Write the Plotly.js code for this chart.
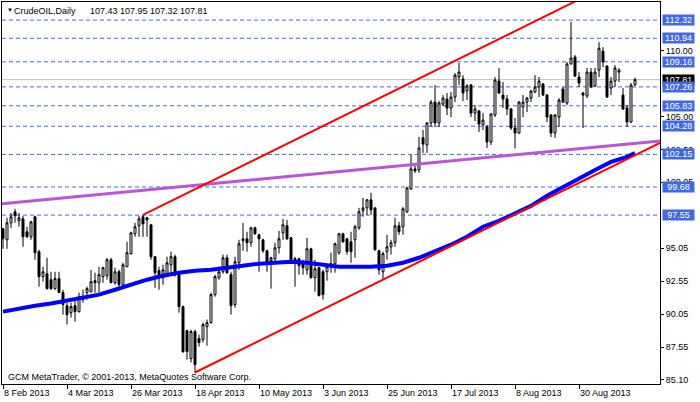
<!DOCTYPE html>
<html><head><meta charset="utf-8">
<script src="https://cdn.plot.ly/plotly-3.0.1.min.js"></script>
<style>html,body{margin:0;padding:0;background:#fff;}#chart{width:700px;height:402px;}</style>
</head><body><div id="chart"></div>
<script>
const symbolName = 'CrudeOIL,Daily';
const copyrightText = 'GCM MetaTrader, \u00a9 2001-2013, MetaQuotes Software Corp.';

const openP = [96.51,95.68,96.97,97.80,97.12,97.27,96.29,95.91,97.42,94.78,
92.89,93.11,92.66,91.98,92.74,91.68,90.69,90.16,90.69,90.24,
91.15,91.68,91.75,92.59,92.43,92.89,92.96,94.17,92.43,93.26,
92.28,93.64,94.63,96.14,96.74,97.42,97.35,96.82,94.40,93.34,
92.81,93.04,93.79,94.40,93.04,90.62,88.80,86.69,88.73,88.20,
88.12,89.11,89.41,91.53,92.81,93.26,94.32,93.04,90.77,93.94,
95.61,95.76,95.46,96.59,96.06,95.68,94.85,94.10,94.25,95.08,
96.21,96.74,95.83,94.25,94.25,94.02,93.41,95.00,92.81,93.57,
93.26,93.26,93.64,93.87,94.70,96.14,95.76,95.53,95.68,96.59,
97.88,98.10,98.71,98.10,94.85,93.26,94.78,95.15,95.46,96.74,
96.67,97.80,99.54,101.05,100.98,103.40,102.87,104.53,106.11,104.53,
105.96,106.34,105.66,106.49,108.01,107.86,106.95,107.40,105.28,105.44,
104.38,104.23,103.09,105.13,107.70,106.64,106.34,105.59,104.15,103.77,
105.74,106.11,106.41,106.87,107.25,107.48,106.64,105.13,103.77,104.98,
107.10,106.04,108.99,109.52,108.01,106.80,106.57,108.38,107.33,108.53,
109.97,108.84,107.17,107.70,108.38,106.64,105.66,104.60,107.43];
const highP = [96.59,97.35,97.72,98.03,97.72,97.50,96.67,97.12,97.50,94.93,
93.64,94.32,93.26,93.26,93.26,91.90,90.92,90.92,91.15,91.68,
91.90,92.13,93.41,93.19,93.64,93.64,94.32,94.32,93.57,93.41,
93.94,95.53,96.29,96.97,97.50,97.57,97.42,96.82,94.40,93.64,
93.79,94.40,94.78,94.55,93.19,90.70,88.88,88.88,88.88,88.50,
89.41,89.64,91.68,93.04,93.64,94.55,94.55,93.26,94.40,95.68,
96.97,96.29,96.67,96.67,96.14,95.76,94.93,94.40,95.46,96.36,
97.27,97.19,95.91,94.40,94.32,94.17,95.83,95.08,94.17,93.64,
93.41,93.79,94.70,95.46,96.21,96.21,95.76,96.29,96.82,98.10,
98.86,98.78,99.24,98.10,94.93,94.78,96.06,95.68,97.35,97.04,
98.18,99.69,102.11,101.28,103.47,104.00,104.60,106.26,107.40,106.19,
106.64,106.80,106.87,108.30,109.07,108.15,107.48,107.48,105.89,105.51,
105.28,104.38,105.28,108.01,108.69,107.63,106.64,105.66,104.91,106.19,
106.64,106.49,107.02,108.15,108.01,107.55,106.72,105.21,105.21,106.41,
107.25,109.14,112.17,109.67,108.38,106.87,108.69,108.69,108.69,110.65,
110.27,108.91,108.01,108.91,108.69,107.17,105.89,107.55,107.95];
const lowP = [95.00,95.00,96.59,96.97,96.67,95.15,95.83,95.68,94.17,92.13,
92.51,91.90,91.90,91.90,91.68,90.01,89.26,89.79,89.48,90.16,
90.92,91.15,91.68,91.68,91.68,92.43,92.66,92.43,92.28,92.13,
92.13,93.64,94.55,95.91,95.91,95.91,95.91,94.17,92.05,91.90,
92.28,92.89,93.19,92.89,90.16,87.14,86.61,86.39,85.63,87.60,
87.90,87.67,89.33,91.37,92.66,93.11,93.11,90.01,90.54,93.41,
94.85,94.78,95.15,96.06,93.26,94.70,93.26,91.98,93.94,94.63,
95.68,95.68,94.02,92.13,93.04,93.04,93.04,92.74,91.75,91.40,
91.15,92.59,93.19,93.19,94.55,95.46,94.55,93.94,94.32,96.44,
97.42,97.57,97.57,94.85,93.04,92.66,94.17,94.55,95.15,96.06,
96.06,97.72,99.46,100.75,100.75,102.26,102.26,104.23,104.23,104.23,
105.81,105.13,104.98,106.11,107.40,106.19,106.26,104.98,104.68,103.85,
104.00,102.64,102.87,104.98,106.72,105.66,105.13,104.00,102.60,103.70,
104.98,105.36,106.11,106.80,106.49,106.57,104.60,103.47,103.40,104.23,
106.04,105.89,108.99,108.01,107.25,104.15,106.41,107.17,107.25,108.01,
108.76,106.41,106.64,107.25,107.63,105.51,104.23,104.53,107.32];
const closeP = [95.76,96.97,97.42,97.50,97.35,95.91,95.91,97.04,94.70,92.89,
93.26,91.98,91.98,92.74,91.68,90.77,90.01,90.62,90.24,91.37,
91.37,91.98,92.51,92.43,93.04,93.57,94.17,92.43,93.26,92.28,
93.79,94.70,96.21,96.67,97.27,96.89,97.19,94.40,93.19,92.96,
93.41,93.94,94.40,93.04,90.62,87.20,87.22,88.73,86.23,87.90,
89.26,89.41,91.53,92.89,93.26,94.32,93.19,90.69,94.02,95.38,
95.76,95.46,96.59,96.14,95.76,94.85,94.02,94.32,95.08,95.76,
96.82,95.76,94.17,94.10,93.72,93.57,95.00,92.81,93.49,91.45,
91.53,93.64,93.87,95.38,96.14,95.53,94.78,94.78,96.67,97.80,
98.10,98.71,97.95,94.93,93.41,94.63,95.15,95.46,96.74,96.29,
98.03,99.61,101.05,100.90,102.64,102.94,104.53,106.11,104.53,106.04,
106.41,105.66,106.49,108.15,108.38,106.80,107.33,105.28,105.59,104.45,
104.75,103.09,105.21,107.78,106.80,106.34,105.59,104.15,103.77,106.11,
106.11,106.41,106.95,107.25,107.70,106.64,104.98,103.77,105.13,106.26,
106.11,108.99,109.44,108.08,107.55,106.64,108.38,107.25,108.38,110.19,
109.14,106.49,107.70,108.69,108.53,105.59,104.60,107.40,107.81];

const dateTickBars = [0,16,32,48,64,80,96,112,128,144];
const dateTickLabels = ['8 Feb 2013','4 Mar 2013','26 Mar 2013','18 Apr 2013','10 May 2013','3 Jun 2013','25 Jun 2013','17 Jul 2013','8 Aug 2013','30 Aug 2013'];

const maBars = [0,4,8,12,16,20,24,28,32,36,40,44,48,52,56,60,64,68,72,76,80,84,88,92,96,100,104,108,112,116,120,124,128,132,136,140,144,148,152,156,158];
const maValues = [90.24,90.47,90.69,90.85,91.07,91.30,91.53,91.90,92.28,92.66,92.96,93.19,93.34,93.41,93.57,93.72,93.87,93.94,94.02,93.94,93.79,93.64,93.64,93.64,93.72,93.94,94.32,94.78,95.31,95.91,96.67,97.12,97.65,98.25,99.01,99.69,100.30,100.97,101.58,101.96,102.26];

const levelValues = [112.32,110.94,109.16,107.26,105.83,104.28,102.15,99.68,97.55];
const priceTicks = [85.10,87.55,90.05,92.55,95.05,100.05,102.50,105.00,110.00];

const upperChannelBars = [35,164.25];
const upperChannelPrices = [97.57,116.91];
const lowerChannelBars = [48,164.25];
const lowerChannelPrices = [85.63,103.02];
const purpleLineBars = [-0.25,164.25];
const purpleLinePrices = [98.41,103.17];

const barIdx = openP.map((_, i) => i);
const last = openP.length - 1;
const currentPrice = closeP[last];
const ohlcText = [openP[last], highP[last], lowP[last], closeP[last]].map(v => v.toFixed(2)).join(' ');

const traces = [
  {type:'candlestick', x:barIdx, open:openP, high:highP, low:lowP, close:closeP,
   increasing:{line:{color:'#000', width:1}, fillcolor:'#fff'},
   decreasing:{line:{color:'#000', width:1}, fillcolor:'#000'},
   whiskerwidth:0, hoverinfo:'skip'},
  {type:'scatter', mode:'lines', x:maBars, y:maValues, line:{color:'#0000FF', width:4}, hoverinfo:'skip'},
  {type:'scatter', mode:'lines', x:purpleLineBars, y:purpleLinePrices, line:{color:'#BA55D3', width:3}, hoverinfo:'skip'},
  {type:'scatter', mode:'lines', x:upperChannelBars, y:upperChannelPrices, line:{color:'#FF0000', width:2}, hoverinfo:'skip'},
  {type:'scatter', mode:'lines', x:lowerChannelBars, y:lowerChannelPrices, line:{color:'#FF0000', width:2}, hoverinfo:'skip'}
];

const shapes = [];
shapes.push({type:'line', xref:'paper', x0:0, x1:1, yref:'y', y0:currentPrice, y1:currentPrice, line:{color:'#C0C0C0', width:1}, layer:'below'});
levelValues.forEach(v => shapes.push({type:'line', xref:'paper', x0:0, x1:1, yref:'y', y0:v, y1:v, line:{color:'#4169E1', width:1, dash:'4px,3px'}, layer:'below'}));

const annotations = [];
annotations.push({xref:'paper', x:1, xanchor:'left', xshift:2, yref:'y', y:currentPrice, yanchor:'middle', text:currentPrice.toFixed(2), bgcolor:'#000', font:{color:'#fff', size:9, family:'Liberation Sans, Arial, sans-serif'}, width:31, height:10, borderpad:0, showarrow:false});
levelValues.forEach(v => annotations.push({xref:'paper', x:1, xanchor:'left', xshift:2, yref:'y', y:v, yanchor:'middle', text:v.toFixed(2), bgcolor:'#4169E1', font:{color:'#fff', size:9, family:'Liberation Sans, Arial, sans-serif'}, width:31, height:10, borderpad:0, showarrow:false}));
annotations.push({xref:'paper', x:0, xanchor:'left', xshift:3, yref:'paper', y:1, yanchor:'middle', yshift:-8, text:'\u25BC', font:{size:6, color:'#000'}, showarrow:false});
annotations.push({xref:'paper', x:0, xanchor:'left', xshift:10, yref:'paper', y:1, yanchor:'middle', yshift:-8.5, text:symbolName, font:{size:9, color:'#000'}, showarrow:false});
annotations.push({xref:'paper', x:0, xanchor:'left', xshift:86, yref:'paper', y:1, yanchor:'middle', yshift:-8.5, text:ohlcText, font:{size:9, color:'#000'}, showarrow:false});
annotations.push({xref:'paper', x:0, xanchor:'left', xshift:4, yref:'paper', y:0, yanchor:'middle', yshift:7, text:copyrightText, font:{size:9, color:'#000'}, showarrow:false});

const layout = {
  width:700, height:402,
  margin:{l:2, r:40, t:2, b:18, pad:0},
  paper_bgcolor:'#fff', plot_bgcolor:'#fff',
  showlegend:false, hovermode:false,
  font:{family:'Liberation Sans, Arial, sans-serif', size:9, color:'#000'},
  xaxis:{range:[-0.25,164.25], showgrid:false, zeroline:false, showline:true, mirror:true,
    linecolor:'#000', linewidth:1, ticks:'outside', ticklen:4, tickcolor:'#000',
    tickmode:'array', tickvals:dateTickBars, ticktext:dateTickLabels,
    ticklabelposition:'outside right', rangeslider:{visible:false}, fixedrange:true,
    tickfont:{size:9, color:'#000'}},
  yaxis:{side:'right', range:[84.76,113.69], showgrid:false, zeroline:false, showline:true, mirror:true,
    linecolor:'#000', linewidth:1, ticks:'outside', ticklen:3, tickcolor:'#000',
    tickmode:'array', tickvals:priceTicks, tickformat:'.2f', fixedrange:true,
    tickfont:{size:9, color:'#000'}},
  shapes:shapes,
  annotations:annotations
};

Plotly.newPlot('chart', traces, layout, {displayModeBar:false, staticPlot:true});
</script></body></html>
